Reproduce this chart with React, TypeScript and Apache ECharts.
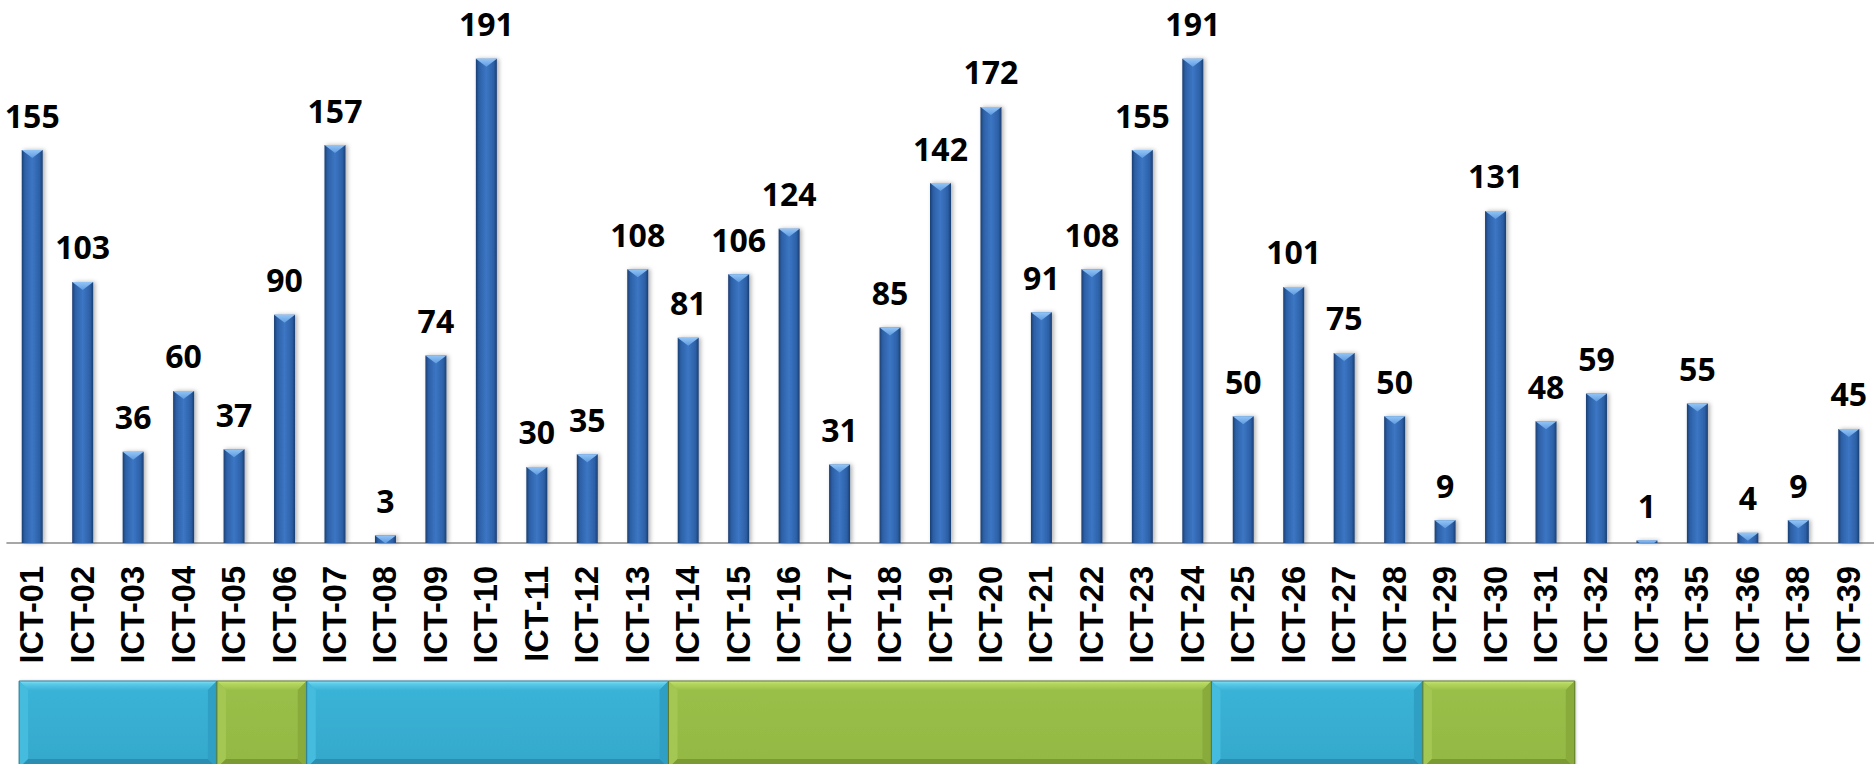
import React, { useEffect, useRef } from "react";
import * as echarts from "echarts";

const categories = [
  "ICT-01", "ICT-02", "ICT-03", "ICT-04", "ICT-05", "ICT-06", "ICT-07", "ICT-08", "ICT-09", "ICT-10",
  "ICT-11", "ICT-12", "ICT-13", "ICT-14", "ICT-15", "ICT-16", "ICT-17", "ICT-18", "ICT-19", "ICT-20",
  "ICT-21", "ICT-22", "ICT-23", "ICT-24", "ICT-25", "ICT-26", "ICT-27", "ICT-28", "ICT-29", "ICT-30",
  "ICT-31", "ICT-32", "ICT-33", "ICT-35", "ICT-36", "ICT-38", "ICT-39",
];

const values = [
  155, 103, 36, 60, 37, 90, 157, 3, 74, 191,
  30, 35, 108, 81, 106, 124, 31, 85, 142, 172,
  91, 108, 155, 191, 50, 101, 75, 50, 9, 131,
  48, 59, 1, 55, 4, 9, 45,
];

// group blocks under the axis, in category-index units (ICT-01 = 0)
const blockStarts = [-0.26, 3.66, 5.44, 12.61, 23.37, 27.56];
const blockEnds = [3.66, 5.44, 12.61, 23.37, 27.56, 30.57];
const blockKinds = [0, 1, 0, 1, 0, 1];

const blockPalette = [
  { main: "#3ab4d8", bottomMain: "#35a8cb", top: "#5ccbe8", edge: "#8ae6fa", left: "#45bcde", right: "#2f9fc4", bottom: "#2b8db0", stroke: "#2a7f9c" },
  { main: "#9bc049", bottomMain: "#93b843", top: "#b3d65e", edge: "#cdea7c", left: "#a3c752", right: "#88ab3c", bottom: "#7b9a34", stroke: "#5f7a28" },
];

export default function App() {
  const ref = useRef<HTMLDivElement>(null);

  useEffect(() => {
    if (!ref.current) return;
    const chart = echarts.init(ref.current, null, { renderer: "svg" });

    const BAR_W = 21;
    const BEVEL = 8;

    const option: any = {
      animation: false,
      grid: { left: 7, top: 36, width: 1871, height: 507, containLabel: false },
      xAxis: [
        {
          type: "category",
          data: categories,
          axisLine: { show: true, lineStyle: { color: "#8a8a8a", width: 1.6 } },
          axisTick: { show: false },
          axisLabel: {
            interval: 0,
            rotate: 90,
            margin: 23,
            fontFamily: "Liberation Sans",
            fontWeight: "bold",
            fontSize: 32.5,
            color: "#000",
          },
          splitLine: { show: false },
        },
        {
          type: "value",
          min: -0.5,
          max: 36.5,
          show: false,
          position: "bottom",
        },
      ],
      yAxis: { type: "value", min: 0, max: 200, show: false },
      series: [
        {
          type: "bar",
          data: values,
          barWidth: BAR_W,
          xAxisIndex: 0,
          itemStyle: {
            color: new echarts.graphic.LinearGradient(0, 0, 1, 0, [
              { offset: 0, color: "#1b3e72" },
              { offset: 0.15, color: "#2c60a6" },
              { offset: 0.5, color: "#3c76c4" },
              { offset: 0.85, color: "#2c60a6" },
              { offset: 1, color: "#1b3e72" },
            ]),
            shadowColor: "rgba(0,0,0,0.3)",
            shadowBlur: 4,
            shadowOffsetX: 2,
          },
          label: {
            show: true,
            position: "top",
            distance: 19,
            fontFamily: "Open Sans",
            fontWeight: "bold",
            fontSize: 32,
            color: "#000",
          },
          z: 2,
        },
        {
          type: "custom",
          xAxisIndex: 0,
          data: values.map((v, i) => [i, v]),
          encode: { x: 0, y: 1 },
          z: 3,
          silent: true,
          renderItem: (params: any, api: any) => {
            const idx = api.value(0);
            const v = api.value(1);
            const top = api.coord([idx, v]);
            const base = api.coord([idx, 0]);
            const h = base[1] - top[1];
            const xl = top[0] - BAR_W / 2;
            const xr = top[0] + BAR_W / 2;
            const t = Math.min(1, h / BEVEL);
            return {
              type: "polygon",
              shape: {
                points: [
                  [xl, top[1]],
                  [xr, top[1]],
                  [xr - (t * BAR_W) / 2, top[1] + t * BEVEL],
                  [xl + (t * BAR_W) / 2, top[1] + t * BEVEL],
                ],
              },
              style: {
                fill: new echarts.graphic.LinearGradient(0, 0, 0, 1, [
                  { offset: 0, color: "#93c6f7" },
                  { offset: 1, color: "#5f9ae0" },
                ]),
              },
            };
          },
        },
        {
          type: "custom",
          xAxisIndex: 1,
          data: blockStarts.map((s, i) => [s, blockEnds[i], blockKinds[i]]),
          encode: { x: [0, 1] },
          clip: false,
          z: 1,
          silent: true,
          renderItem: (params: any, api: any) => {
            const s = api.value(0);
            const e = api.value(1);
            const c = blockPalette[api.value(2)];
            const x0 = api.coord([s, 0])[0];
            const x1 = api.coord([e, 0])[0];
            const y0 = 681;
            const y1 = 768;
            const b = 9;
            return {
              type: "group",
              children: [
                {
                  type: "rect",
                  shape: { x: x0, y: y0, width: x1 - x0, height: y1 - y0 },
                  style: {
                    fill: new echarts.graphic.LinearGradient(0, 0, 0, 1, [
                      { offset: 0, color: c.main },
                      { offset: 1, color: c.bottomMain },
                    ]),
                    shadowColor: "rgba(0,0,0,0.25)",
                    shadowBlur: 3,
                    shadowOffsetX: 1,
                  },
                },
                {
                  type: "polygon",
                  shape: { points: [[x0, y0], [x1, y0], [x1 - b, y0 + b], [x0 + b, y0 + b]] },
                  style: {
                    fill: new echarts.graphic.LinearGradient(0, 0, 0, 1, [
                      { offset: 0, color: c.edge },
                      { offset: 0.3, color: c.top },
                      { offset: 1, color: c.main },
                    ]),
                  },
                },
                {
                  type: "polygon",
                  shape: { points: [[x0, y0], [x0 + b, y0 + b], [x0 + b, y1 - b], [x0, y1]] },
                  style: { fill: c.left },
                },
                {
                  type: "polygon",
                  shape: { points: [[x1, y0], [x1 - b, y0 + b], [x1 - b, y1 - b], [x1, y1]] },
                  style: { fill: c.right },
                },
                {
                  type: "polygon",
                  shape: { points: [[x0, y1], [x0 + b, y1 - b], [x1 - b, y1 - b], [x1, y1]] },
                  style: { fill: c.bottom },
                },
                {
                  type: "rect",
                  shape: { x: x0, y: y0, width: x1 - x0, height: y1 - y0 },
                  style: { fill: "none", stroke: c.stroke, lineWidth: 1 },
                },
              ],
            };
          },
        },
      ],
    };

    chart.setOption(option);
    return () => chart.dispose();
  }, []);

  return (
    <div
      ref={ref}
      style={{ position: "absolute", left: 0, top: 0, width: 1874, height: 764, background: "#fff" }}
    />
  );
}
